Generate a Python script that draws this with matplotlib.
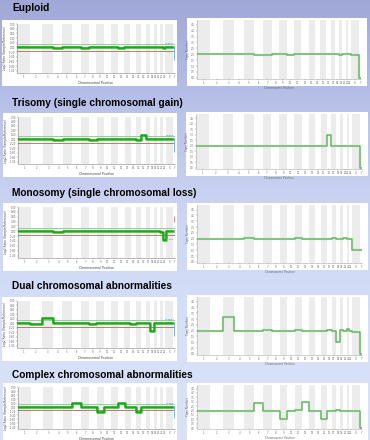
import numpy as np
import matplotlib.pyplot as plt
from matplotlib.colors import LinearSegmentedColormap

W, H = 370, 440

# chromosomes and their approximate lengths (Mb)
chroms = [str(i) for i in range(1, 23)] + ['X', 'Y']
chrom_len = [249, 243, 198, 191, 181, 171, 159, 146, 141, 136, 135, 134,
             115, 107, 103, 90, 81, 78, 59, 63, 48, 51, 155, 30]

titles = ['Euploid',
          'Trisomy (single chromosomal gain)',
          'Monosomy (single chromosomal loss)',
          'Dual chromosomal abnormalities',
          'Complex chromosomal abnormalities']

# left panels: log2 ratio per chromosome (1..22, X)
log2_euploid = [0.02, 0.0, 0.01, -0.01, 0.0, 0.02, -0.04, 0.0, 0.01, 0.0, 0.01, -0.01,
                0.0, 0.01, 0.0, 0.01, 0.02, 0.0, 0.01, 0.0, 0.02, -0.02, 0.0]
log2_trisomy = [0.0, 0.01, 0.0, -0.01, 0.0, 0.01, 0.0, -0.01, 0.0, 0.0, 0.01, 0.0,
                0.0, 0.0, -0.01, 0.2, 0.0, 0.01, 0.0, 0.0, 0.01, 0.0, 0.0]
log2_monosomy = [0.0, 0.0, 0.01, -0.01, 0.0, 0.0, 0.0, 0.01, 0.0, 0.0, 0.01, 0.0,
                 0.0, 0.0, 0.0, 0.01, 0.02, 0.03, 0.0, 0.01, -0.05, -0.35, 0.0]
log2_dual = [0.0, -0.01, 0.22, 0.0, 0.0, 0.01, 0.0, -0.01, 0.0, 0.0, 0.0, 0.01,
             0.0, -0.01, 0.0, 0.01, 0.01, -0.35, 0.02, 0.0, 0.0, 0.0, 0.0]
log2_complex = [0.0, 0.0, 0.0, -0.01, 0.0, 0.21, 0.02, 0.0, -0.27, 0.0, 0.0, 0.22,
                0.0, 0.0, -0.27, 0.0, 0.01, 0.02, 0.0, 0.0, 0.0, 0.0, 0.0]
left_data = [log2_euploid, log2_trisomy, log2_monosomy, log2_dual, log2_complex]

# sex chromosome reference marks on the left panels
ref_x_level = [0.2, 0.2, -0.3, 0.2, 0.2]
ref_y_top = [0.0, 0.0, 0.62, 0.0, 0.0]
ref_y_bottom = [-0.55, -0.55, 0.4, -0.55, -0.55]
ref_color = ['#7fb2e6', '#7fb2e6', '#e88aa8', '#7fb2e6', '#7fb2e6']

# right panels: copy number per chromosome (1..22, X, Y)
cn_euploid = [2.05, 2.0, 2.02, 2.0, 2.03, 1.95, 1.97, 2.0, 2.0, 1.96, 2.02, 2.0,
              2.0, 2.0, 2.03, 1.98, 2.0, 2.02, 1.96, 2.04, 2.0, 1.98, 1.97, 0.0]
cn_trisomy = [2.0, 2.0, 1.98, 2.0, 2.0, 2.0, 1.98, 2.0, 1.97, 2.0, 2.0, 2.0,
              1.98, 2.0, 1.95, 2.95, 1.97, 1.98, 2.0, 1.98, 2.0, 1.97, 1.97, 0.0]
cn_monosomy = [2.0, 2.0, 1.98, 2.0, 2.02, 2.0, 1.98, 2.0, 2.0, 2.0, 2.02, 1.98,
               2.0, 2.0, 1.98, 1.97, 2.02, 2.0, 2.0, 2.05, 2.0, 1.95, 1.0, 1.0]
cn_dual = [2.0, 2.0, 3.15, 1.98, 1.98, 2.0, 2.02, 1.97, 2.0, 2.0, 2.03, 2.0,
           2.0, 2.0, 2.0, 2.05, 1.98, 1.05, 2.05, 2.0, 2.1, 1.97, 1.9, 0.0]
cn_complex = [2.0, 2.0, 2.0, 1.97, 2.0, 2.85, 2.0, 1.98, 1.05, 2.0, 2.02, 2.95,
              2.0, 2.0, 1.05, 1.95, 2.0, 2.05, 2.0, 1.97, 2.0, 2.0, 2.0, 0.0]
right_data = [cn_euploid, cn_trisomy, cn_monosomy, cn_dual, cn_complex]

left_yticks = [1.0, 0.8, 0.6, 0.4, 0.2, 0.0, -0.2, -0.4, -0.6, -0.8, -1.0]
right_yticks = [0, 0.5, 1, 1.5, 2, 2.5, 3, 3.5, 4, 4.5]

# layout in pixels
title_y = [8, 103, 193, 286, 375]
left_box = [(2, 20, 177, 86), (3, 113, 177, 177), (3, 203, 177, 271),
            (2, 297, 177, 361), (3, 383, 177, 440)]
right_box = [(187, 18, 367, 86), (186, 112, 368, 176), (187, 203, 368, 270),
             (187, 295, 368, 362), (187, 383, 368, 440)]


def frac(x0, y0, x1, y1):
    return [x0 / W, 1 - y1 / H, (x1 - x0) / W, (y1 - y0) / H]


edges = np.concatenate([[0], np.cumsum(chrom_len)])
centers = (edges[:-1] + edges[1:]) / 2

fig = plt.figure(figsize=(W / 100, H / 100), dpi=100)

# background gradient
bg = fig.add_axes([0, 0, 1, 1])
bg_cmap = LinearSegmentedColormap.from_list(
    'bg', ['#a0a8d7', '#b9c2e9', '#cdd6f3', '#d7e0f8', '#dae2f9'])
bg.imshow(np.linspace(0, 1, 256).reshape(-1, 1), cmap=bg_cmap, aspect='auto',
          extent=[0, 1, 0, 1])
bg.axis('off')


def style_axes(ax, spine_color):
    for s in ['top', 'right']:
        ax.spines[s].set_visible(False)
    for s in ['left', 'bottom']:
        ax.spines[s].set_color(spine_color)
        ax.spines[s].set_linewidth(0.4)
    ax.tick_params(length=1, width=0.3, labelsize=1.8, pad=0.6,
                   colors='#666666')


def stripes(ax):
    for i in range(len(chroms)):
        if i % 2 == 0:
            ax.axvspan(edges[i], edges[i + 1], color='#ececec', lw=0, zorder=0)


for k in range(5):
    fig.text(12 / W, 1 - title_y[k] / H, titles[k], fontsize=7.3,
             fontweight='bold', family='Liberation Sans', va='center')

    # left panel
    x0, y0, x1, y1 = left_box[k]
    pan = fig.add_axes(frac(x0, y0, x1, y1))
    pan.set_facecolor('white')
    pan.set_xticks([])
    pan.set_yticks([])
    for s in pan.spines.values():
        s.set_visible(False)

    bot = 13 if k < 4 else 11
    ax = fig.add_axes(frac(x0 + 15, y0 + 4, x1 - 2, y1 - bot))
    stripes(ax)
    vals = left_data[k]
    ax.axhline(0.15, color='#7ccf7c', lw=0.6, zorder=1)
    ax.axhline(-0.15, color='#b26560', lw=0.6, zorder=1)
    ax.plot(edges[:24], vals + [vals[-1]], drawstyle='steps-post',
            color='#22c022', lw=1.8, zorder=2)
    ax.plot(edges[:24], vals + [vals[-1]], drawstyle='steps-post',
            color='#1d5e1d', lw=0.35, zorder=3)
    ax.hlines(ref_x_level[k], edges[22], edges[23], color=ref_color[k],
              lw=0.6, linestyles=(0, (2, 1)), zorder=3)
    ax.vlines(centers[23], ref_y_bottom[k], ref_y_top[k], color=ref_color[k],
              lw=0.7, zorder=3)
    ax.set_xlim(edges[0], edges[-1])
    ax.set_ylim(-1.1, 1.0)
    ax.set_yticks(left_yticks)
    ax.set_yticklabels(['%.2f' % v for v in left_yticks])
    ax.set_xticks(centers)
    ax.set_xticklabels(chroms)
    style_axes(ax, '#8a8a8a')
    ax.set_xlabel('Chromosomal Position', fontsize=2.3, labelpad=1.2,
                  color='#444444')
    ax.set_ylabel('Log2 Ratio (Sample/Reference)', fontsize=2.1, labelpad=1,
                  color='#444444')

    # right panel
    x0, y0, x1, y1 = right_box[k]
    pan = fig.add_axes(frac(x0, y0, x1, y1))
    pan.set_facecolor('white')
    pan.set_xticks([])
    pan.set_yticks([])
    for s in pan.spines.values():
        s.set_visible(False)

    rbot = 7 if k < 4 else 11
    ax = fig.add_axes(frac(x0 + 10, y0 + 2, x1 - 6, y1 - rbot))
    stripes(ax)
    cn = right_data[k]
    ax.plot(edges, cn + [cn[-1]], drawstyle='steps-post',
            color='#8ee08e', lw=1.5, zorder=2)
    ax.plot(edges, cn + [cn[-1]], drawstyle='steps-post',
            color='#5a5a5a', lw=0.3, zorder=3)
    ax.set_xlim(edges[0], edges[-1])
    ax.set_ylim(-0.1, 4.9)
    ax.set_yticks(right_yticks)
    ax.set_xticks(centers)
    ax.set_xticklabels(chroms)
    style_axes(ax, '#b0b0b0')
    ax.set_xlabel('Chromosome Position', fontsize=2, labelpad=0.6,
                  color='#666666')
    ax.set_ylabel('Copy Number', fontsize=2, labelpad=0.8, color='#666666')

fig.savefig('out.png', dpi=100)
